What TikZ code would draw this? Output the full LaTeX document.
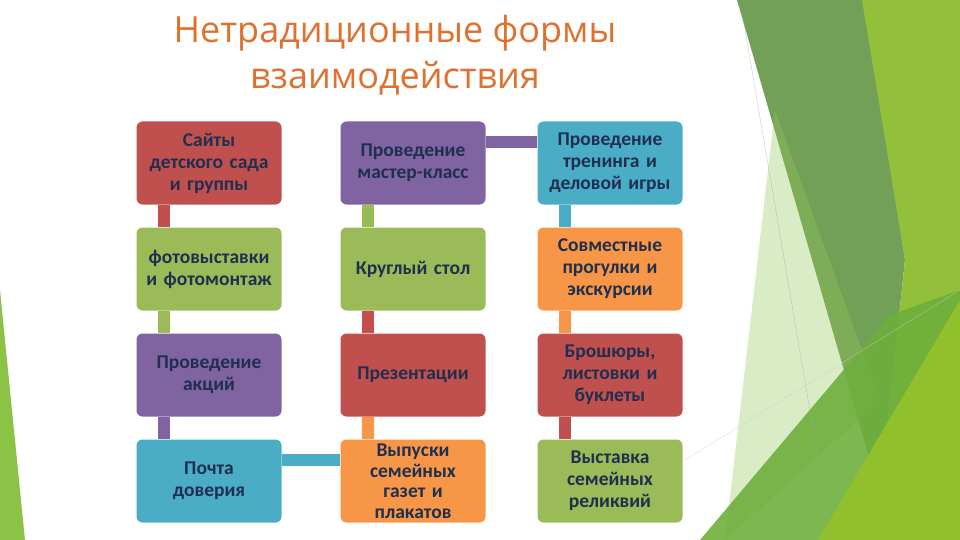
\documentclass[tikz,border=0pt]{standalone}
\usepackage{fontspec}
\setmainfont{Carlito}
\newfontfamily\titlefont{Open Sans}
\usetikzlibrary{positioning}
\definecolor{cred}{HTML}{C0504D}
\definecolor{cgreen}{HTML}{9BBB59}
\definecolor{cpurple}{HTML}{8064A2}
\definecolor{cteal}{HTML}{4BACC6}
\definecolor{corange}{HTML}{F79646}
\definecolor{ctext}{HTML}{1F2F4F}
\definecolor{ctitle}{HTML}{E0702E}
\tikzset{box/.style = {rectangle,rounded corners=6pt,minimum width=145pt,minimum height=83pt,
    text width=140pt,align=center,text=ctext,font=\fontsize{19.5}{22}\selectfont\bfseries,inner sep=1pt},
    conn/.style = {line width=12pt}}
\begin{document}
\begin{tikzpicture}[x=1pt,y=-1pt]
    \useasboundingbox (0,0) rectangle (960,540);
    % background
    \fill[color={rgb,255:red,98;green,150;blue,68},opacity=.9] (737,0) -- (865,0) -- (905,260) -- (880,495) -- cycle;
    \fill[color={rgb,255:red,146;green,192;blue,58}] (862,0) -- (960,0) -- (960,540) -- (835,540) -- (880,495) -- (905,260) -- cycle;
    \fill[color={rgb,255:red,150;green,200;blue,90},opacity=.35] (775,110) -- (725,540) -- (880,400) -- cycle;
    \fill[color={rgb,255:red,110;green,175;blue,60},opacity=.9] (700,540) -- (890,315) -- (960,290) -- (960,540) -- cycle;
    \fill[color={rgb,255:red,145;green,192;blue,45}] (818,540) -- (960,300) -- (960,540) -- cycle;
    \draw[gray!70,very thin] (742,12) -- (832,540);
    \draw[gray!40,very thin] (685,460) -- (960,290);
    \fill[color={rgb,255:red,140;green,195;blue,70}] (0,290) -- (25,540) -- (0,540) -- cycle;
    % title
    \node (title) at (395,55) [align=center,text=ctitle,font=\titlefont\fontsize{36}{46}\selectfont] {Нетрадиционные формы\\взаимодействия};
    % column 1
    \node[box,fill=cred]    (a1) at (209,163) {Сайты\\детского сада\\и группы};
    \node[box,fill=cgreen]  (a2) at (209,269) {фотовыставки\\и фотомонтаж};
    \node[box,fill=cpurple] (a3) at (209,375) {Проведение\\акций};
    \node[box,fill=cteal]   (a4) at (209,481) {Почта\\доверия};
    % column 2
    \node[box,fill=cpurple] (b1) at (413,163) {Проведение\\мастер-класс};
    \node[box,fill=cgreen]  (b2) at (413,269) {Круглый стол};
    \node[box,fill=cred]    (b3) at (413,375) {Презентации};
    \node[box,fill=corange,font=\fontsize{19.5}{20.5}\selectfont\bfseries] (b4) at (413,481) {Выпуски\\семейных\\газет и\\плакатов};
    % column 3
    \node[box,fill=cteal]   (c1) at (610,163) {Проведение\\тренинга и\\деловой игры};
    \node[box,fill=corange] (c2) at (610,269) {Совместные\\прогулки и\\экскурсии};
    \node[box,fill=cred]    (c3) at (610,375) {Брошюры,\\листовки и\\буклеты};
    \node[box,fill=cgreen]  (c4) at (610,481) {Выставка\\семейных\\реликвий};
    % connectors
    \draw[conn,cred]    ([xshift=28pt]a1.south west) -- ([xshift=28pt]a2.north west);
    \draw[conn,cgreen]  ([xshift=28pt]a2.south west) -- ([xshift=28pt]a3.north west);
    \draw[conn,cpurple] ([xshift=28pt]a3.south west) -- ([xshift=28pt]a4.north west);
    \draw[conn,cteal]   ([yshift=-21pt]a4.north east) -- ([yshift=-21pt]b4.north west);
    \draw[conn,corange] ([xshift=28pt]b4.north west) -- ([xshift=28pt]b3.south west);
    \draw[conn,cred]    ([xshift=28pt]b3.north west) -- ([xshift=28pt]b2.south west);
    \draw[conn,cgreen]  ([xshift=28pt]b2.north west) -- ([xshift=28pt]b1.south west);
    \draw[conn,cpurple] ([yshift=-21pt]b1.north east) -- ([yshift=-21pt]c1.north west);
    \draw[conn,cteal]   ([xshift=28pt]c1.south west) -- ([xshift=28pt]c2.north west);
    \draw[conn,corange] ([xshift=28pt]c2.south west) -- ([xshift=28pt]c3.north west);
    \draw[conn,cred]    ([xshift=28pt]c3.south west) -- ([xshift=28pt]c4.north west);
\end{tikzpicture}
\end{document}
